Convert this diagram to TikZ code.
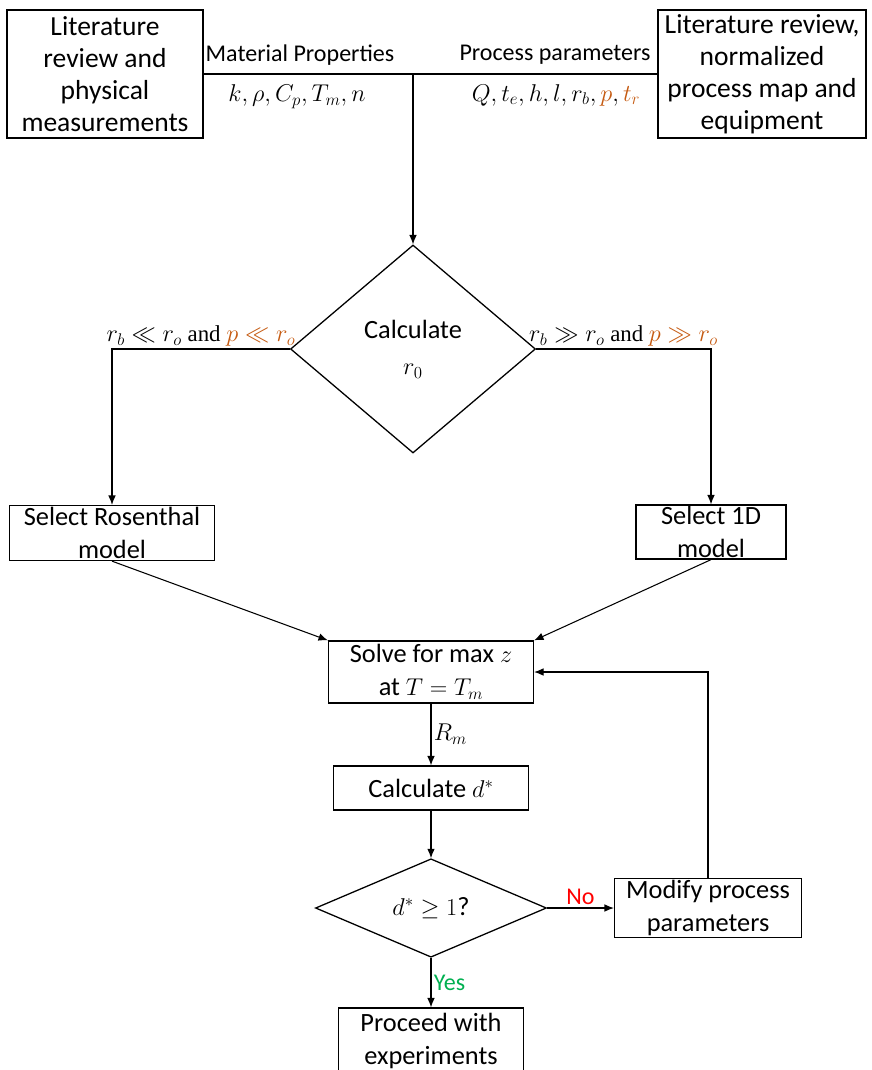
\documentclass[tikz,border=0pt]{standalone}
\usepackage{amsmath}
\usepackage{amssymb}
\usepackage{fontspec}
\setmainfont{Carlito}
\newfontfamily\serifword{Liberation Serif}
\usepackage{xcolor}
\usetikzlibrary{positioning}
\usetikzlibrary{shapes.geometric}
\usetikzlibrary{arrows.meta}

\definecolor{paramorange}{RGB}{197,90,17}
\definecolor{noRed}{RGB}{255,0,0}
\definecolor{yesGreen}{RGB}{0,176,80}

\newcommand{\andword}{\text{\serifword\ and\ }}

\begin{document}
\begin{tikzpicture}[x=0.03cm, y=-0.03cm,
  box/.style={draw, line width=1.1pt, align=center, inner sep=0pt,
    font=\fontsize{22.5}{28}\selectfont},
  bigbox/.style={box, font=\fontsize{23.5}{27.3}\selectfont},
  decision/.style={draw, diamond, line width=1.1pt, align=center, inner sep=0pt,
    font=\fontsize{22.5}{28}\selectfont},
  flow/.style={line width=0.9pt, -{Latex[length=8pt,width=6.5pt]}},
  link/.style={line width=0.9pt},
  tag/.style={font=\fontsize{20.5}{24}\selectfont, inner sep=2pt},
  mathtag/.style={font=\fontsize{20.5}{24}\selectfont, inner sep=2pt},
  branchtag/.style={font=\fontsize{19.5}{24}\selectfont, inner sep=2pt}]

\useasboundingbox (0,0) rectangle (871,1070);


% inputs
\node[bigbox, minimum width=5.88cm, minimum height=3.84cm] (litMat) at (105,74)
{Literature\\review and\\physical\\measurements};

\node[bigbox, minimum width=6.24cm, minimum height=3.84cm] (litProc) at (762,74)
{Literature review,\\normalized\\process map and\\equipment};

\coordinate (junction) at (413,74);

\draw[link] (litMat.east) -- (litProc.west);

\node[tag] (matLabel) at (300,55) {Material Properties};
\node[mathtag] (matVars) at (297,97) {$k,\rho,C_p,T_m,n$};

\node[tag] (procLabel) at (555,55) {Process parameters};
\node[mathtag] (procVars) at (556,95)
{$Q,t_e,h,l,r_b,\textcolor{paramorange}{p},\textcolor{paramorange}{t_r}$};


% model choice
\node[decision, minimum width=7.35cm, minimum height=6.24cm] (calcR) at (413,349)
{Calculate\\[3pt]$r_0$};

\draw[flow] (junction) -- (calcR.north);

\node[box, minimum width=6.15cm, minimum height=1.65cm] (rosenthal) at (112,533)
{Select Rosenthal\\model};

\node[box, minimum width=4.5cm, minimum height=1.62cm] (oneD) at (711,532)
{Select 1D\\model};

\draw[flow] (calcR.west) -| node[pos=0.25, above, branchtag]
{$r_b \ll r_o \andword \textcolor{paramorange}{p \ll r_o}$} (rosenthal.north);

\draw[flow] (calcR.east) -| node[pos=0.25, above, branchtag]
{$r_b \gg r_o \andword \textcolor{paramorange}{p \gg r_o}$} (oneD.north);


% solve and check
\node[box, minimum width=6.15cm, minimum height=1.86cm] (solve) at (431,672)
{Solve for max $z$\\at $T=T_m$};

\draw[flow] (rosenthal.south) -- (solve.north west);
\draw[flow] (oneD.south) -- (solve.north east);

\node[box, minimum width=5.85cm, minimum height=1.32cm] (calcD) at (431,788)
{Calculate $d^*$};

\draw[flow] (solve) -- node[right, mathtag] {$R_m$} (calcD);

\node[decision, minimum width=6.93cm, minimum height=2.79cm] (check) at (431,908)
{$d^* \geq 1$?};

\draw[flow] (calcD) -- (check);

\node[box, minimum width=5.61cm, minimum height=1.77cm] (modify) at (708,908)
{Modify process\\parameters};

\draw[flow] (check.east) -- node[above, tag, text=noRed] {No} (modify.west);
\draw[flow] (modify.north) |- (solve.east);

\node[box, minimum width=5.55cm, minimum height=1.98cm] (proceed) at (431,1041)
{Proceed with\\experiments};

\draw[flow] (check.south) -- node[right, tag, text=yesGreen] {Yes} (proceed.north);

\end{tikzpicture}
\end{document}
